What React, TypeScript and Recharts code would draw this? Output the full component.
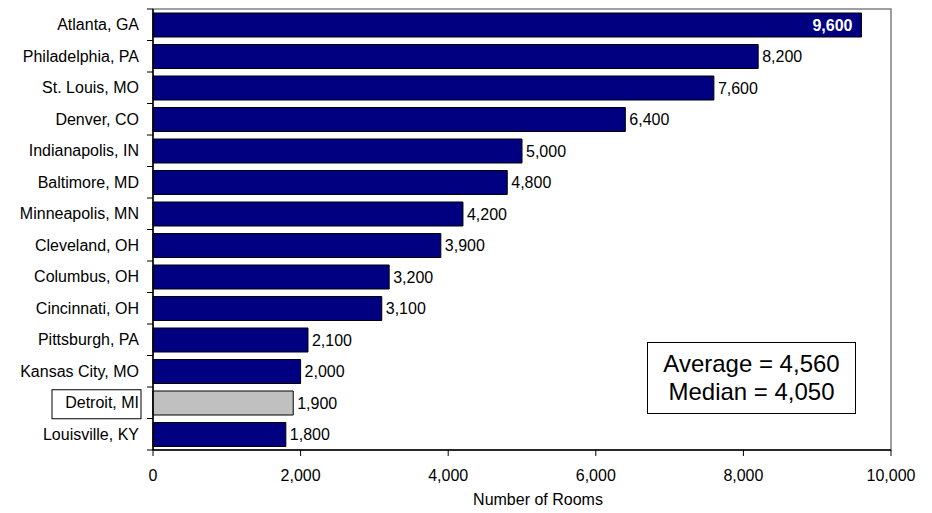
import React from "react";
import { BarChart, Bar, XAxis, YAxis, Cell, LabelList, ReferenceArea } from "recharts";

const cities = [
  "Atlanta, GA",
  "Philadelphia, PA",
  "St. Louis, MO",
  "Denver, CO",
  "Indianapolis, IN",
  "Baltimore, MD",
  "Minneapolis, MN",
  "Cleveland, OH",
  "Columbus, OH",
  "Cincinnati, OH",
  "Pittsburgh, PA",
  "Kansas City, MO",
  "Detroit, MI",
  "Louisville, KY",
];

const rooms = [9600, 8200, 7600, 6400, 5000, 4800, 4200, 3900, 3200, 3100, 2100, 2000, 1900, 1800];

const xTicks = [0, 2000, 4000, 6000, 8000, 10000];

const highlight = "Detroit, MI";
const statLines = ["Average = 4,560", "Median = 4,050"];

const FONT = '"Liberation Sans", Arial, sans-serif';
const NAVY = "#000080";
const GREY = "#C0C0C0";

const W = 932;
const H = 513;
const M = { top: 9, right: 41, left: 0, bottom: 0 };
const X_AXIS_H = 63;
const Y_AXIS_W = 153;

const data = cities.map((name, i) => ({ name, rooms: rooms[i] }));

const plotH = H - M.top - M.bottom - X_AXIS_H;
const band = plotH / cities.length;

const fmt = (v: number) => v.toLocaleString("en-US");

// category label, plus the small tick marks that sit between bars
const CityTick = ({ x, y, payload, index }: any) => {
  const isLast = index === cities.length - 1;
  const boxed = payload.value === highlight;
  return (
    <g>
      {boxed && (
        <rect x={x - 87} y={y - 13} width={89} height={29} fill="#fff" stroke="#000" strokeWidth={1} />
      )}
      <text x={x} y={y} dy="0.355em" textAnchor="end" fontSize={16} fontFamily={FONT} fill="#000">
        {payload.value}
      </text>
      <line x1={x + 8} x2={x + 14} y1={y - band / 2} y2={y - band / 2} stroke="#000" />
      {isLast && <line x1={x + 8} x2={x + 14} y1={y + band / 2} y2={y + band / 2} stroke="#000" />}
    </g>
  );
};

const ValueLabel = ({ x, y, width, height, value, index }: any) => {
  if (index === 0) {
    return (
      <text
        x={x + width - 9}
        y={y + height / 2}
        dy="0.355em"
        textAnchor="end"
        fontSize={16}
        fontWeight="bold"
        fontFamily={FONT}
        fill="#fff"
      >
        {fmt(value)}
      </text>
    );
  }
  return (
    <text x={x + width + 4} y={y + height / 2} dy="0.355em" textAnchor="start" fontSize={16} fontFamily={FONT} fill="#000">
      {fmt(value)}
    </text>
  );
};

export default function App() {
  return (
    <div style={{ position: "absolute", left: 0, top: 0, width: W, height: H, background: "#fff", fontFamily: FONT }}>
      <BarChart width={W} height={H} data={data} layout="vertical" margin={M} barSize={24}>
        <ReferenceArea x1={0} x2={10000} fill="none" stroke="#808080" strokeWidth={1.5} ifOverflow="extendDomain" />
        <XAxis
          type="number"
          domain={[0, 10000]}
          ticks={xTicks}
          tickFormatter={fmt}
          height={X_AXIS_H}
          tickSize={6}
          tickMargin={14}
          axisLine={{ stroke: "#000", strokeWidth: 1.5 }}
          tickLine={{ stroke: "#000" }}
          tick={{ fill: "#000", fontSize: 16, fontFamily: FONT }}
          label={{
            value: "Number of Rooms",
            position: "insideBottom",
            offset: 8,
            dx: 16,
            fill: "#000",
            fontSize: 16,
            fontFamily: FONT,
          }}
        />
        <YAxis
          type="category"
          dataKey="name"
          width={Y_AXIS_W}
          tickSize={6}
          tickMargin={8}
          tickLine={false}
          axisLine={{ stroke: "#000", strokeWidth: 1.5 }}
          tick={<CityTick />}
          interval={0}
        />
        <Bar dataKey="rooms" isAnimationActive={false} stroke="#000" strokeWidth={1}>
          {data.map((d) => (
            <Cell key={d.name} fill={d.name === highlight ? GREY : NAVY} />
          ))}
          <LabelList dataKey="rooms" content={<ValueLabel />} />
        </Bar>
      </BarChart>
      <div
        style={{
          position: "absolute",
          left: 647,
          top: 342,
          width: 209,
          height: 72,
          boxSizing: "border-box",
          border: "1px solid #000",
          background: "#fff",
          paddingTop: 7,
          textAlign: "center",
          fontSize: 24,
          lineHeight: "28px",
          color: "#000",
        }}
      >
        {statLines.map((s) => (
          <div key={s}>{s}</div>
        ))}
      </div>
    </div>
  );
}
